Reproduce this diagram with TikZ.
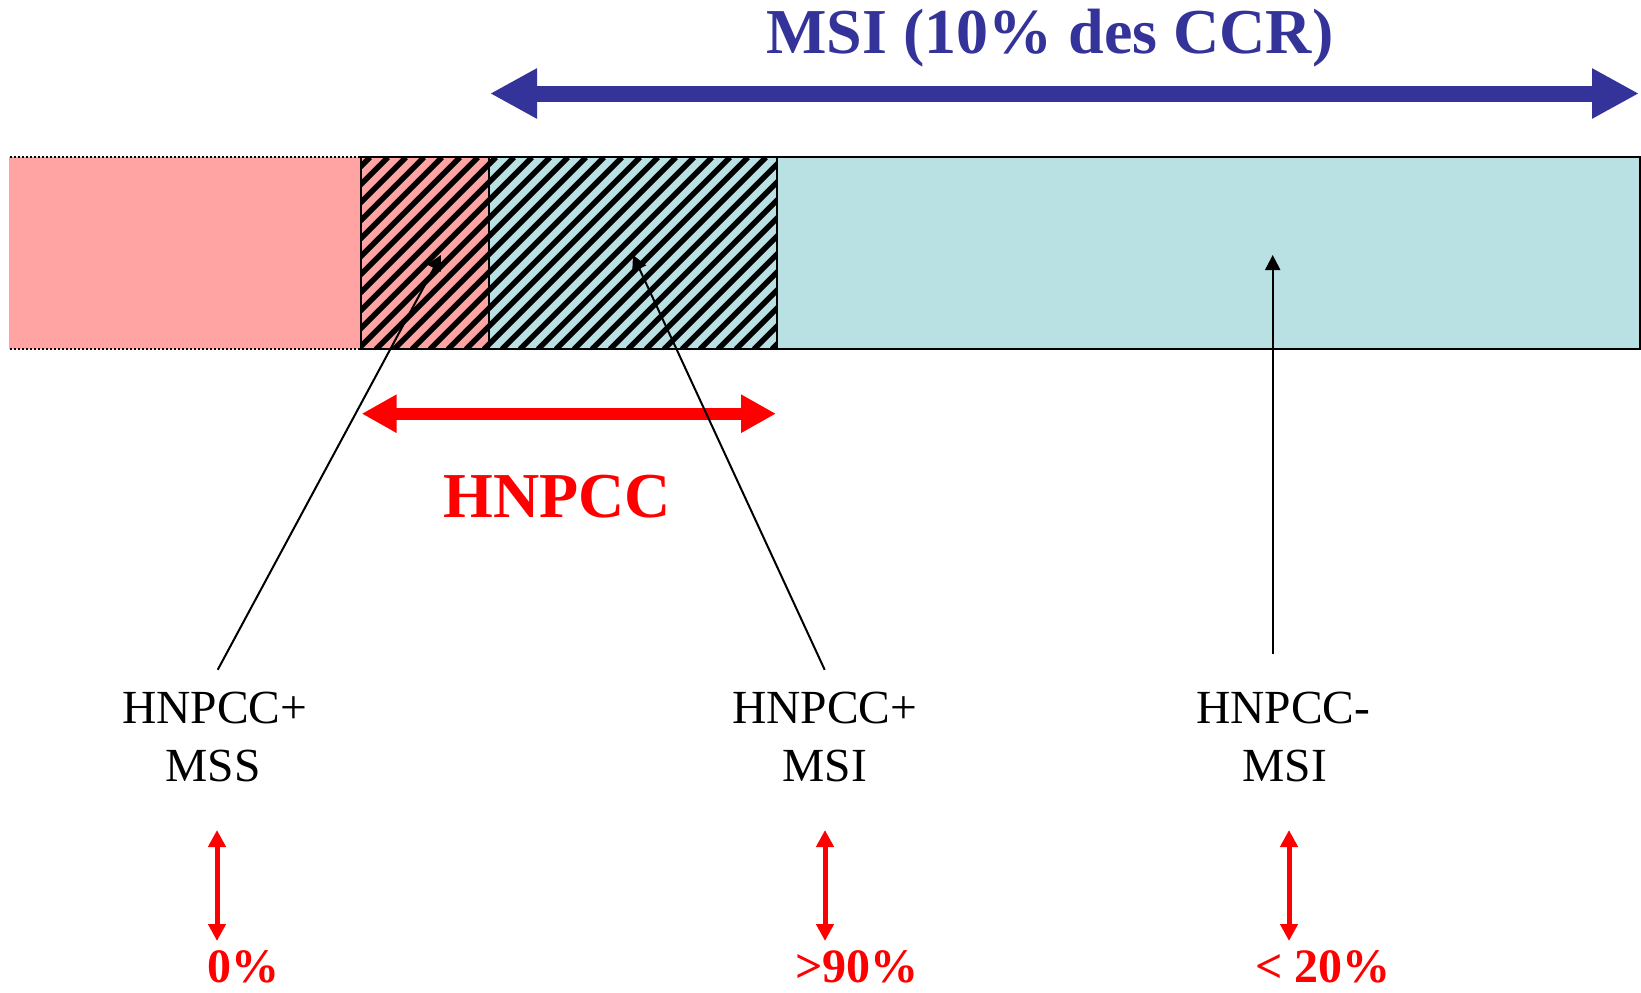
\documentclass[tikz,border=0pt]{standalone}
\usepackage{fontspec}
\setmainfont{Liberation Serif}
\usetikzlibrary{arrows.meta}
\definecolor{pinkfill}{HTML}{FFA3A3}
\definecolor{bluefill}{HTML}{B9E0E3}
\definecolor{msiblue}{HTML}{333399}
\definecolor{hred}{HTML}{FF0000}
\begin{document}
\begin{tikzpicture}[x=1pt,y=-1pt,
  lab/.style={anchor=base, inner sep=0pt, font=\fontsize{47.5}{57}\selectfont},
  pct/.style={anchor=base west, inner sep=0pt, text depth=0pt, text=hred, font=\fontsize{48}{58}\selectfont\bfseries},
  big/.style={anchor=base, inner sep=0pt, font=\fontsize{64}{76}\selectfont\bfseries},
  pointer/.style={draw=black, line width=2pt, -{Triangle[length=15pt,width=15pt]}},
  redvert/.style={draw=hred, line width=5pt, {Triangle[length=17pt,width=17pt]}-{Triangle[length=17pt,width=17pt]}},
  hatchline/.style={line width=5.5pt, black},
  border/.style={line width=2pt, black}
]
\useasboundingbox (0,0) rectangle (1641,993);
\fill[white] (0,0) rectangle (1641,993);

% bar
\fill[pinkfill] (9.4,157.3) rectangle (489,349.3);
\fill[bluefill] (489,157.3) rectangle (1640,349.3);
\begin{scope}
  \clip (361,157.3) rectangle (776.6,349.3);
  \foreach \i in {0,...,35} { \draw[hatchline] ({160+18*\i},349.3) -- ++(192,-192); }
\end{scope}
\draw[border] (361,157.3) -- (1640,157.3) -- (1640,349.3) -- (361,349.3) -- cycle;
\draw[border] (489,157.3) -- (489,349.3);
\draw[border] (776.6,157.3) -- (776.6,349.3);
\draw[line width=2pt, dash pattern=on 2pt off 2pt] (10,157.3) -- (361,157.3);
\draw[line width=2pt, dash pattern=on 2pt off 2pt] (10,349.3) -- (361,349.3);

% MSI arrow and title
\coordinate (msiL) at (490,93.5);
\coordinate (msiR) at (1639,93.5);
\draw[msiblue, line width=16pt, {Triangle[length=47pt,width=47pt]}-{Triangle[length=47pt,width=47pt]}] (msiL) -- (msiR);
\node[big, text=msiblue] (msititle) at (1050,53.3) {MSI (10\% des CCR)};

% HNPCC arrow and label
\coordinate (hL) at (361.7,413.7);
\coordinate (hR) at (776,413.7);
\draw[hred, line width=12pt, {Triangle[length=35pt,width=36pt]}-{Triangle[length=35pt,width=36pt]}] (hL) -- (hR);
\node[big, text=hred] (hnpcc) at (557,517.3) {HNPCC};

% labels
\node[lab] (l1a) at (214.7,723.3) {HNPCC+};
\node[lab] (l1b) at (213,781.7) {MSS};
\node[lab] (l2a) at (824.7,723.3) {HNPCC+};
\node[lab] (l2b) at (824.7,781.7) {MSI};
\node[lab] (l3a) at (1283.3,723.3) {HNPCC-};
\node[lab] (l3b) at (1284.7,781.7) {MSI};

% pointers
\coordinate (s1) at (217.7,669.8);
\coordinate (tipA) at (441,255);
\coordinate (s2) at (824.7,669.8);
\coordinate (tipB) at (633,255);
\coordinate (s3) at (1272.7,654);
\coordinate (tipC) at (1272.7,255);
\draw[pointer] (s1) -- (tipA);
\draw[pointer] (s2) -- (tipB);
\draw[pointer] (s3) -- (tipC);

% red vertical arrows
\coordinate (v1t) at (217,830);
\coordinate (v1b) at (217,941);
\coordinate (v2t) at (825,830);
\coordinate (v2b) at (825,941);
\coordinate (v3t) at (1289,830);
\coordinate (v3b) at (1289,941);
\draw[redvert] (v1t) -- (v1b);
\draw[redvert] (v2t) -- (v2b);
\draw[redvert] (v3t) -- (v3b);

% percentages
\node[pct] (p1) at (207,982) {0\%};
\node[pct] (p2) at (795,982) {>90\%};
\node[pct] (p3) at (1255,982) {< 20\%};
\end{tikzpicture}
\end{document}
